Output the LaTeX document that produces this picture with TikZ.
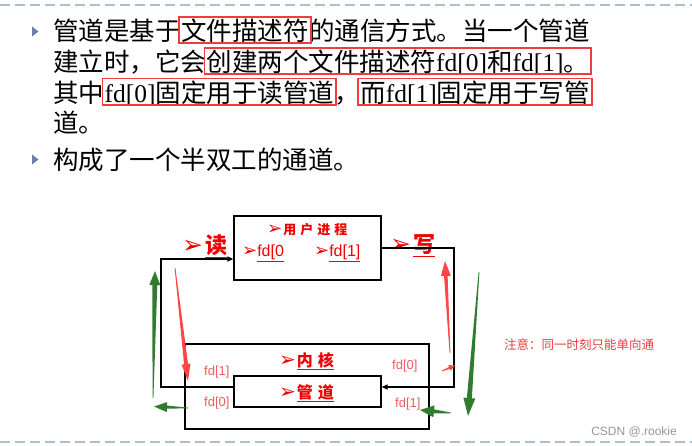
\documentclass[tikz,border=0pt]{standalone}
\usepackage{fontspec}
\setmainfont{Liberation Serif}
\newfontfamily\cjk{Noto Sans CJK SC}
\newfontfamily\arial{Liberation Sans}
\newfontfamily\dingbat{DejaVu Sans}
\usetikzlibrary{arrows.meta, positioning, calc, fit}
\definecolor{markred}{RGB}{240, 60, 60}
\definecolor{labelred}{RGB}{240, 0, 0}
\definecolor{fdred}{RGB}{240, 90, 90}
\definecolor{arrowred}{RGB}{255, 70, 70}
\definecolor{arrowgreen}{RGB}{46, 125, 46}
\definecolor{slideblue}{RGB}{170, 190, 215}
\definecolor{bulletblue}{RGB}{110, 125, 170}
\definecolor{markgray}{RGB}{150, 150, 150}
\newcommand\pointer[1]{{\dingbat\fontsize{#1}{#1}\selectfont ➢}}
\newcommand\taperarrow[6]{% colour, tail, tip, head length, head half width, shaft half width
  \coordinate (headbase) at ($(#3)!#4!(#2)$);
  \fill[#1] ($(#2)!0.4pt!90:(#3)$) -- ($(headbase)!#6!90:(#3)$) -- ($(headbase)!#5!90:(#3)$) -- (#3)
    -- ($(headbase)!#5!-90:(#3)$) -- ($(headbase)!#6!-90:(#3)$) -- ($(#2)!0.4pt!-90:(#3)$) -- cycle;
}
\tikzset{
    bodytext/.style={anchor=base west, inner sep=0pt, text height=22pt, text depth=1pt, font=\cjk\fontsize{25.5}{30}\selectfont},
    markbox/.style={draw=markred, line width=1.6pt, inner xsep=2pt, inner ysep=1.5pt},
    frame/.style={draw, rectangle, line width=1.2pt, inner sep=0pt},
    tag/.style={anchor=west, inner sep=0pt, text=labelred, font=\cjk\bfseries\fontsize{#1}{#1}\selectfont},
    fdtag/.style={anchor=west, inner sep=0pt, text=fdred, font=\arial\fontsize{13}{15}\selectfont},
    wire/.style={line width=1.2pt, -{Triangle[length=6pt, width=5pt]}},
    dashline/.style={draw=slideblue, line width=1.8pt, dash pattern=on 10pt off 5pt},
    bullet/.style={fill=bulletblue},
}
\begin{document}
\begin{tikzpicture}[x=1pt, y=-1pt]
    \useasboundingbox (0,0) rectangle (692,445);
    \draw[dashline] (0,5) -- (692,5);
    \draw[dashline] (0,442) -- (692,442);

    % text of the slide
    \fill[bullet] (32,26.5) -- (38.5,31.5) -- (32,36.5) -- cycle;
    \node[bodytext] (l1a) at (53,40.5) {管道是基于};
    \node[bodytext] (l1b) at (l1a.base east) {文件描述符};
    \node[bodytext] (l1c) at (l1b.base east) {的通信方式。当一个管道};
    \node[bodytext] (l2a) at (53,71.5) {建立时，它会};
    \node[bodytext] (l2b) at (l2a.base east) {创建两个文件描述符{\rmfamily fd[0]}和{\rmfamily fd[1]}。};
    \node[bodytext] (l3a) at (53,102) {其中};
    \node[bodytext] (l3b) at (l3a.base east) {{\rmfamily fd[0]}固定用于读管道};
    \node[bodytext] (l3c) at (l3b.base east) {，};
    \node[bodytext] (l3d) at (l3c.base east) {而{\rmfamily fd[1]}固定用于写管};
    \node[bodytext] (l4) at (53,132) {道。};
    \fill[bullet] (32,154.5) -- (38.5,159.5) -- (32,164.5) -- cycle;
    \node[bodytext] (l5) at (53,169) {构成了一个半双工的通道。};
    \node[markbox, fit=(l1b)] (m1) {};
    \node[markbox, fit=(l2b)] (m2) {};
    \node[markbox, fit=(l3b)] (m3) {};
    \node[markbox, fit=(l3d)] (m4) {};

    % boxes
    \node[frame, minimum width=147pt, minimum height=64pt] (user) at (307.5,248) {};
    \node[frame, minimum width=244pt, minimum height=85pt] (kernel) at (307,386.5) {};
    \node[frame, minimum width=147pt, minimum height=31pt] (pipe) at (307.5,391.5) {};

    \node[tag=13] (utitle) at (267,230) {\pointer{18}\hspace{1pt}用\hspace{4pt}户\hspace{4pt}进\hspace{4pt}程};
    \node[tag=16, font=\arial\fontsize{16}{18}\selectfont] (ufd0) at (242,253) {\pointer{18}\underline{fd[0}};
    \node[tag=16, font=\arial\fontsize{16}{18}\selectfont] (ufd1) at (314,253) {\pointer{18}\underline{fd[1]}};
    \node[tag=22] (rd) at (182,246) {\pointer{25}\hspace{2pt}\underline{读}};
    \node[tag=22] (wr) at (390,246) {\pointer{25}\hspace{2pt}\underline{写}};
    \node[tag=16] (ktitle) at (279,361) {\pointer{20}\hspace{1pt}\underline{内\hspace{5pt}核}};
    \node[tag=16] (ptitle) at (279,393) {\pointer{20}\hspace{1pt}\underline{管\hspace{5pt}道}};

    \node[fdtag] (lfd1) at (204,372) {fd[1]};
    \node[fdtag] (lfd0) at (204,403) {fd[0]};
    \node[fdtag] (rfd0) at (392,366) {fd[0]};
    \node[fdtag] (rfd1) at (395,404) {fd[1]};

    % read and write paths
    \draw[wire] (pipe.west |- 0,387) -| (161,259) -- (user.west |- 0,259);
    \draw[wire] (user.east) -| (454,387) -- (pipe.east |- 0,387);

    % flow arrows
    \coordinate (rdtail) at (175,268);
    \coordinate (rdtip) at (188,381);
    \coordinate (wrtail) at (450,353);
    \coordinate (wrtip) at (445,261);
    \coordinate (wrsmalltail) at (442,371);
    \coordinate (wrsmalltip) at (455,365.5);
    \coordinate (glvtail) at (153,398);
    \coordinate (glvtip) at (155,271);
    \coordinate (glhtail) at (188,408);
    \coordinate (glhtip) at (154,406.5);
    \coordinate (grvtail) at (479,272);
    \coordinate (grvtip) at (468,416);
    \coordinate (grhtail) at (451,413);
    \coordinate (grhtip) at (420,410);
    \taperarrow{arrowred}{rdtail}{rdtip}{17pt}{4.5pt}{2pt}
    \taperarrow{arrowred}{wrtail}{wrtip}{15pt}{5pt}{1.8pt}
    \taperarrow{arrowred}{wrsmalltail}{wrsmalltip}{6pt}{3pt}{1pt}
    \taperarrow{arrowgreen}{glvtail}{glvtip}{14pt}{5.5pt}{2.5pt}
    \taperarrow{arrowgreen}{glhtail}{glhtip}{13pt}{5pt}{1.5pt}
    \taperarrow{arrowgreen}{grvtail}{grvtip}{18pt}{6pt}{2.5pt}
    \taperarrow{arrowgreen}{grhtail}{grhtip}{14pt}{6pt}{2pt}

    \node[anchor=west, inner sep=0pt, text=markred, font=\cjk\fontsize{12.5}{14}\selectfont] (note) at (504,345) {注意：同一时刻只能单向通};
    \node[anchor=east, inner sep=0pt, text=markgray, font=\arial\fontsize{12}{14}\selectfont] (mark) at (677,432) {CSDN @.rookie};
\end{tikzpicture}
\end{document}
